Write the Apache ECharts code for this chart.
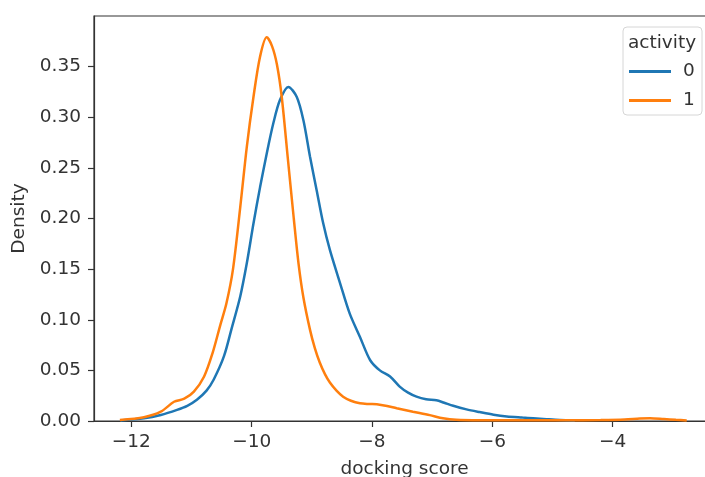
<!DOCTYPE html>
<html>
<head>
<meta charset="utf-8">
<script src="https://cdn.jsdelivr.net/npm/echarts@6/dist/echarts.min.js"></script>
<style>
  html, body { margin: 0; padding: 0; background: #fff; }
  #chart { width: 705px; height: 477px; }
</style>
</head>
<body>
<div id="chart"></div>
<script>
// KDE of docking scores, one curve per activity class
const seriesNames = ['0', '1'];
const xTicks = [-12, -10, -8, -6, -4];

// activity 0
const inactiveX = [-12.18, -11.79, -11.51, -11.24, -11.07, -10.91, -10.75, -10.63, -10.46, -10.33,
  -10.19, -10.08, -9.97, -9.86, -9.75, -9.64, -9.53, -9.39, -9.25, -9.14, -9.03, -8.92, -8.81,
  -8.70, -8.53, -8.37, -8.20, -8.03, -7.87, -7.70, -7.54, -7.40, -7.26, -7.10, -6.93, -6.80,
  -6.65, -6.43, -6.21, -5.98, -5.76, -5.50, -5.32, -5.10, -4.88, -4.63];
const inactiveY = [0.0005, 0.0027, 0.006, 0.011, 0.015, 0.021, 0.030, 0.041, 0.064, 0.092,
  0.123, 0.156, 0.195, 0.231, 0.264, 0.294, 0.317, 0.330, 0.320, 0.297, 0.261, 0.228, 0.195,
  0.169, 0.136, 0.106, 0.083, 0.060, 0.050, 0.044, 0.034, 0.028, 0.024, 0.0215, 0.0205, 0.018,
  0.015, 0.0115, 0.0088, 0.0062, 0.0045, 0.0034, 0.0027, 0.0018, 0.001, 0.0005];

// activity 1
const activeX = [-12.19, -11.79, -11.51, -11.29, -11.12, -10.96, -10.79, -10.65, -10.52, -10.42,
  -10.31, -10.19, -10.08, -9.97, -9.86, -9.75, -9.66, -9.58, -9.50, -9.40, -9.30, -9.22, -9.14,
  -9.03, -8.95, -8.87, -8.78, -8.70, -8.59, -8.48, -8.35, -8.20, -8.05, -7.92, -7.75, -7.59,
  -7.32, -7.04, -6.82, -6.60, -6.20, -5.50, -4.80, -4.20, -3.80, -3.55, -3.38, -3.15, -2.95, -2.77];
const activeY = [0.001, 0.0037, 0.0092, 0.019, 0.022, 0.029, 0.044, 0.067, 0.095, 0.116,
  0.150, 0.211, 0.271, 0.320, 0.360, 0.379, 0.370, 0.352, 0.320, 0.260, 0.200, 0.155, 0.122,
  0.090, 0.072, 0.058, 0.046, 0.038, 0.030, 0.024, 0.020, 0.0175, 0.0168, 0.0165, 0.0148, 0.0126,
  0.0092, 0.0058, 0.0027, 0.0012, 0.0008, 0.0008, 0.0008, 0.001, 0.0015, 0.0025, 0.0028, 0.002, 0.0012, 0.0006];

const zip = (xs, ys) => xs.map((x, i) => [x, ys[i]]);
const minus = v => (v < 0 ? '\u2212' : '') + Math.abs(v);

const font = 'DejaVu Sans';
const ink = '#333';
const fs = 18.5;

const chart = echarts.init(document.getElementById('chart'), null, { renderer: 'canvas' });
chart.setOption({
  animation: false,
  backgroundColor: '#fff',
  textStyle: { fontFamily: font },
  grid: {
    left: 94, top: 16, right: -10, bottom: 56,
    outerBoundsMode: 'none',
    containLabel: false,
    show: true, borderColor: ink, borderWidth: 1.2, backgroundColor: 'transparent'
  },
  xAxis: {
    type: 'value',
    min: -12.62, max: -2.3,
    name: 'docking score',
    nameLocation: 'middle',
    nameGap: 39,
    nameTextStyle: { fontFamily: font, fontSize: fs, color: ink },
    axisLine: { show: true, onZero: false, lineStyle: { color: ink, width: 1.2 } },
    axisTick: { show: true, length: 6, lineStyle: { color: ink, width: 1.2 }, customValues: xTicks },
    axisLabel: { fontFamily: font, fontSize: fs, color: ink, margin: 12, customValues: xTicks, formatter: minus },
    splitLine: { show: false }
  },
  yAxis: {
    type: 'value',
    min: 0, max: 0.4, interval: 0.05,
    name: 'Density',
    nameLocation: 'middle',
    nameGap: 64,
    nameRotate: 90,
    nameTextStyle: { fontFamily: font, fontSize: fs, color: ink },
    axisLine: { show: true, lineStyle: { color: ink, width: 1.2 } },
    axisTick: { show: true, length: 6, lineStyle: { color: ink, width: 1.2 } },
    axisLabel: { fontFamily: font, fontSize: fs, color: ink, margin: 13, showMaxLabel: false,
      formatter: v => v.toFixed(2) },
    splitLine: { show: false }
  },
  legend: {
    orient: 'vertical',
    left: 629, top: 62,
    padding: 0,
    icon: 'rect',
    itemWidth: 42, itemHeight: 3,
    itemGap: 10,
    textStyle: { fontFamily: font, fontSize: fs, color: ink, lineHeight: 18, padding: [0, 0, 0, 7] },
    data: seriesNames
  },
  graphic: [
    {
      type: 'rect', z: 1,
      shape: { x: 623, y: 27, width: 79, height: 88, r: 4 },
      style: { fill: 'rgba(255,255,255,0.8)', stroke: '#d6d6d6', lineWidth: 1 }
    },
    {
      type: 'text', z: 5,
      style: { x: 662, y: 43, text: 'activity', font: fs + 'px "DejaVu Sans"', fill: ink,
        textAlign: 'center', textVerticalAlign: 'middle' }
    }
  ],
  color: ['#1f77b4', '#ff7f0e'],
  series: [
    { name: seriesNames[0], type: 'line', data: zip(inactiveX, inactiveY), showSymbol: false,
      smooth: 0.3, lineStyle: { width: 2.5, color: '#1f77b4' } },
    { name: seriesNames[1], type: 'line', data: zip(activeX, activeY), showSymbol: false,
      smooth: 0.3, lineStyle: { width: 2.5, color: '#ff7f0e' } }
  ]
});
</script>
</body>
</html>
